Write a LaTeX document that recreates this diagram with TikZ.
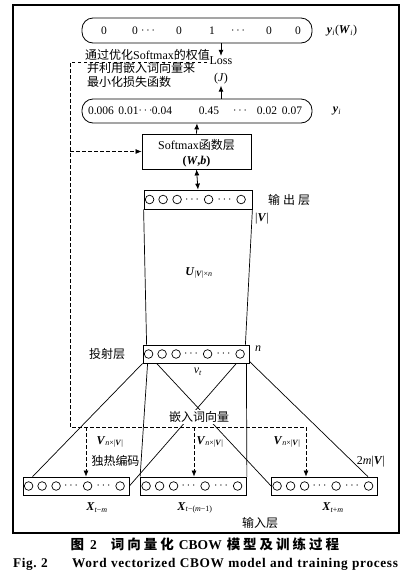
\documentclass[tikz,border=0pt]{standalone}
\usepackage{fontspec}
\setmainfont{Liberation Serif}
\newfontfamily\zh{Noto Sans CJK SC}
\usetikzlibrary{arrows.meta,calc}
\newcommand{\bi}[1]{\textbf{\textit{#1}}}
\begin{document}
\begin{tikzpicture}[x=1pt,y=-1pt,
  every node/.style={font=\fontsize{12}{13}\selectfont, inner sep=1pt},
  num/.style={font=\fontsize{11.5}{13}\selectfont},
  zhlab/.style={font=\zh\fontsize{12}{13}\selectfont},
  box/.style={draw, line width=0.8pt, minimum width=106pt, minimum height=18pt, inner sep=0pt},
  rbox/.style={draw, line width=0.8pt, rounded corners=11pt, minimum width=230pt, minimum height=25pt, inner sep=0pt},
  ln/.style={line width=0.7pt},
  arr/.style={line width=0.8pt, -{Latex[length=6pt,width=5pt]}},
  darr/.style={line width=0.8pt, {Latex[length=6pt,width=5pt]}-{Latex[length=6pt,width=5pt]}},
  dsh/.style={line width=0.7pt, dash pattern=on 3.5pt off 2.5pt},
  dasharr/.style={dsh, -{Latex[length=6pt,width=5pt]}}]
\useasboundingbox (0,0) rectangle (415,582);
\fill[white] (0,0) rectangle (415,582);
\draw[line width=1.1pt] (13,5) rectangle (399,533);

% top target box
\node[rbox] (yw) at (197,30.5) {};
\foreach \x/\t in {104/0,135/0,148/{$\cdots$},179/0,212/1,238/{$\cdots$},269/0,298/0}
  \node[num] at (\x,30.5) {\t};
\node (ywl) at (342,30.5) {\bi{y}\textsubscript{\textit{i}}(\bi{W}\textsubscript{\textit{i}})};

% loss
\node (loss) at (221,61) {Loss};
\node (J) at (221,79) {(\textit{J})};

% prediction box
\node[rbox, minimum height=24pt] (yi) at (197,111) {};
\foreach \x/\t in {101/0.006,128.5/0.01,145.5/{$\cdots$},162/0.04,209/0.45,240/{$\cdots$},267/0.02,292/0.07}
  \node[num] at (\x,111) {\t};
\node (yil) at (337,111) {\bi{y}\textsubscript{\textit{i}}};

\draw[arr] (yw.south -| loss) -- (loss.north);
\draw[arr] (yi.north -| J) -- (J.south);

% text block
\node[zhlab, anchor=west] (t1) at (84,55) {通过优化{\rmfamily Softmax}的权值};
\node[zhlab, anchor=west] (t2) at (86,67.5) {并利用嵌入词向量来};
\node[zhlab, anchor=west] (t3) at (86,82) {最小化损失函数};

% softmax
\node[draw, line width=0.8pt, minimum width=109pt, minimum height=35pt, inner sep=0pt] (sm) at (196.5,151.5) {};
\node (smt1) at (196.5,145) {Softmax{\zh 函数层}};
\node (smt2) at (196.5,162) {\textbf{(\textit{W},\textit{b})}};
\draw[arr] (sm.north) -- (yi.south);

% output layer
\node[box, minimum width=108pt, minimum height=19pt] (out) at (198,199.5) {};
\node[zhlab] (outl) at (289,200) {输\hspace{3pt}出\hspace{3pt}层};
\node (vl) at (262,219) {|\bi{V}|};
\draw[darr] (sm.south) -- (out.north);

% projection layer
\node[box] (proj) at (196,354) {};
\node[zhlab] (projl) at (107,354) {投射层};
\node (nl) at (258,349) {\textit{n}};
\node (vt) at (198,372) {\textit{v}\textsubscript{\textit{t}}};
\draw[ln] (out.south west) -- ($(proj.north west)+(4,0)$);
\draw[ln] (out.south east) -- ($(proj.north east)+(-4,0)$);
\node (ul) at (199,273) {\bi{U}\textsubscript{|\bi{V}|×\textit{n}}};

% input layer
\node[box] (in1) at (76,486) {};
\node[box] (in2) at (193.5,486) {};
\node[box] (in3) at (324.5,486) {};

% circles
\foreach \b in {out,proj,in1,in2,in3} {
  \foreach \dx in {6,19.5,33.5,65,97.5}
    \draw[line width=0.7pt] ($(\b.west)+(\dx,0)$) circle (4.3pt);
  \foreach \dx in {48.5,81}
    \node at ($(\b.west)+(\dx,0)$) {$\cdots$};
}

% connections projection -> inputs
\draw[ln] (proj.south west) -- ($(in1.north west)+(10,0)$);
\draw[ln] ($(proj.south west)+(5,0)$) -- (in2.north west);
\draw[ln] ($(proj.south west)+(14,0)$) -- (in3.west);
\draw[ln] ($(proj.south east)+(-13,0)$) -- (in1.east);
\draw[ln] ($(proj.south east)+(-3,0)$) -- (in2.north east);
\draw[ln] ($(proj.south east)+(0,-2)$) -- ($(in3.north east)+(-10,0)$);

% dashed feedback path
\coordinate (d0) at (207,62);
\coordinate (d1) at (70,62);
\coordinate (d2) at (70,427);
\coordinate (d3) at (306,427);
\coordinate (ds) at (70,151.5);
\draw[dsh] (d0) -- (d1) -- (d2) -- (d3);
\draw[dasharr] (ds) -- (sm.west);
\coordinate (a1) at (86,427);
\coordinate (a2) at (194,427);
\draw[dasharr] (a1) -- (in1.north -| a1);
\draw[dasharr] (a2) -- (in2.north -| a2);
\draw[dasharr] (d3) -- (in3.north -| d3);

\node[zhlab, fill=white, inner sep=1pt] (emb) at (199,417) {嵌入词向量};
\node (v1) at (110,442) {\bi{V}\textsubscript{\textit{n}×|\bi{V}|}};
\node (v2) at (210,442) {\bi{V}\textsubscript{\textit{n}×|\bi{V}|}};
\node (v3) at (287,442) {\bi{V}\textsubscript{\textit{n}×|\bi{V}|}};
\node[zhlab] (onehot) at (115.5,461) {独热编码};
\node (mv) at (371,462) {2\textit{m}|\bi{V}|};

\node (x1) at (97,508) {\bi{X}\textsubscript{\textit{t}−\textit{m}}};
\node (x2) at (195,508) {\bi{X}\textsubscript{\textit{t}−(\textit{m}−1)}};
\node (x3) at (333,508) {\bi{X}\textsubscript{\textit{t}+\textit{m}}};
\node[zhlab] (inl) at (260,523) {输入层};

% captions
\node (cap1) at (205,544) {\zh\bfseries\fontsize{13.5}{14}\selectfont 图\hspace{6pt}{\rmfamily 2}\hspace{14pt}词\hspace{3pt}向\hspace{3pt}量\hspace{3pt}化\hspace{5pt}{\rmfamily CBOW}\hspace{5pt}模\hspace{3pt}型\hspace{3pt}及\hspace{3pt}训\hspace{3pt}练\hspace{3pt}过\hspace{3pt}程};
\node (cap2) at (205.5,564) {\makebox[385pt][s]{\bfseries\fontsize{13.3}{14}\selectfont\addfontfeatures{LetterSpace=5} Fig.~2\hspace{1.5em} Word vectorized CBOW model and training process}};
\end{tikzpicture}
\end{document}
